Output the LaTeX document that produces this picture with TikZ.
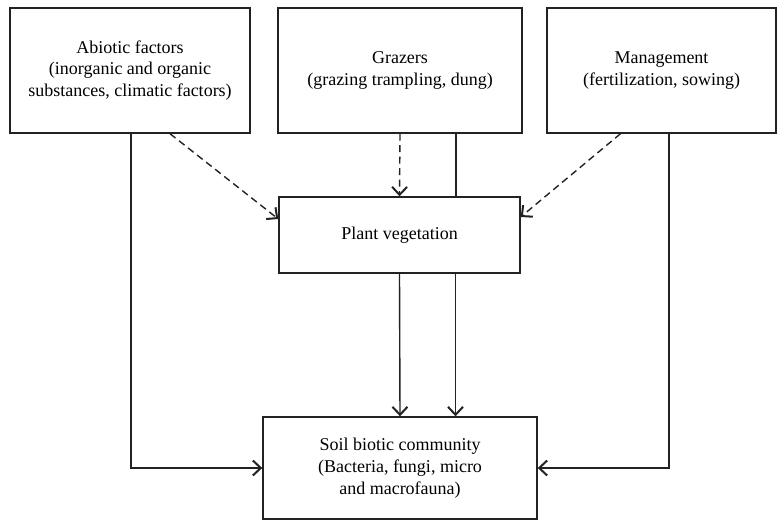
\documentclass[tikz,border=0pt]{standalone}
\usepackage{fontspec}
\setmainfont{Liberation Serif}
\usepackage{tikz}
\usetikzlibrary{arrows.meta, positioning, calc}
\definecolor{mydark}{RGB}{34,34,34}
\tikzset{
  box/.style={rectangle, draw=mydark, fill=white, align=center,
    inner sep=0pt, line width=1.4pt,
    font=\fontsize{18}{21.7}\selectfont},
  arrow/.style={-{Straight Barb[length=8pt, width=15pt, line width=2pt]}, line width=1.4pt, color=mydark},
  dasharrow/.style={arrow, dash pattern=on 7pt off 4.5pt},
  line/.style={line width=1.4pt, color=mydark}
}
\begin{document}
\begin{tikzpicture}[x=1pt, y=-1pt]
  \useasboundingbox (0,0) rectangle (777,521);

  % Top row of drivers
  \node[box, minimum width=240pt, minimum height=125pt] (abio) at (130,70.5)
    {Abiotic factors\\(inorganic and organic\\substances, climatic factors)};
  \node[box, minimum width=244pt, minimum height=125pt] (graz) at (400,70.5)
    {Grazers\\(grazing trampling, dung)};
  \node[box, minimum width=229pt, minimum height=125pt] (mgmt) at (661.5,70.5)
    {Management\\(fertilization, sowing)};

  % Middle and bottom
  \node[box, minimum width=241pt, minimum height=76pt] (plant) at (399.5,235)
    {Plant vegetation};
  \node[box, minimum width=274pt, minimum height=102pt] (soil) at (400,468)
    {Soil biotic community\\(Bacteria, fungi, micro\\and macrofauna)};

  % Dashed effects on vegetation
  \draw[dasharrow] ([xshift=40pt]abio.south) -- ([yshift=16pt]plant.west);
  \draw[dasharrow] (graz.south) -- (plant.north);
  \draw[dasharrow] ([xshift=-41pt]mgmt.south) -- ([yshift=18pt]plant.east);

  % Direct effects on soil community
  \draw[line] ([xshift=56pt]graz.south) -- ([xshift=56pt]graz.south |- plant.north);
  \draw[arrow] (plant.south) -- (soil.north);
  \draw[arrow] ([xshift=56pt]plant.south) -- ([xshift=56pt]plant.south |- soil.north);
  \draw[arrow] ([xshift=1pt]abio.south) |- (soil.west);
  \draw[arrow] ([xshift=7.5pt]mgmt.south) |- (soil.east);
\end{tikzpicture}
\end{document}
